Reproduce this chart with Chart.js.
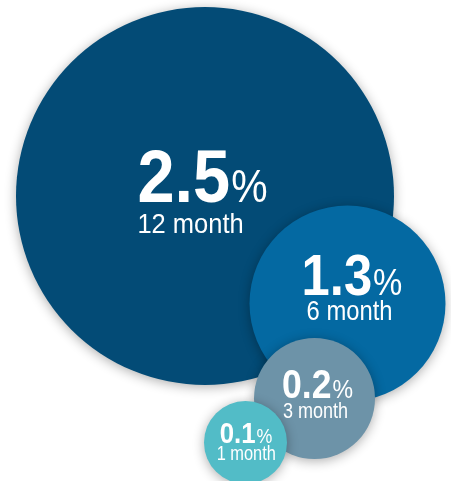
<!DOCTYPE html>
<html>
<head>
<meta charset="utf-8">
<script src="https://cdn.jsdelivr.net/npm/chart.js@4"></script>
<style>
  html, body { margin: 0; padding: 0; background: #fff; }
  #wrap { width: 451px; height: 481px; }
</style>
</head>
<body>
<div id="wrap"><canvas id="c" width="451" height="481"></canvas></div>
<script>
// --- Data ---
const PERIODS = ['12 month', '6 month', '3 month', '1 month'];
const RATES = [2.5, 1.3, 0.2, 0.1];

// --- Layout (page pixels) ---
const BUBBLE_X = [205, 347.5, 314.5, 245.5];
const BUBBLE_Y = [196, 303.5, 398.5, 442.5];
const BUBBLE_R = [189, 98, 60.5, 41.5];
const COLORS = ['#034b76', '#0469a2', '#6d93a8', '#52bcc7'];

// label styling per bubble
const NUM_SIZE = [75, 57, 40, 29];
const PCT_SIZE = [46, 37, 26, 20];
const SUB_SIZE = [28, 28, 22, 20];
const SUB_SQUEEZE = [0.91, 0.85, 0.82, 0.82];
const NUM_DX = [-2.5, 4.5, 3, 0.5];
const SUB_DX = [0, 5, 1, -3];
const BASE_DY = [6, -8.5, -0.5, 0.5];
const LINE_GAP = [31, 25, 20, 17];

const FONT = '"Liberation Sans", Arial, sans-serif';
const SQUEEZE = 0.89; // condensed look for the figures

const shadowPlugin = {
  id: 'shadow',
  beforeDatasetDraw(chart) {
    const ctx = chart.ctx;
    ctx.save();
    ctx.shadowColor = 'rgba(0,0,0,0.32)';
    ctx.shadowBlur = 12;
    ctx.shadowOffsetX = 0;
    ctx.shadowOffsetY = 2;
  },
  afterDatasetDraw(chart) {
    chart.ctx.restore();
  }
};

function squeezedText(ctx, text, x, y, sx) {
  ctx.save();
  ctx.translate(x, y);
  ctx.scale(sx, 1);
  ctx.fillText(text, 0, 0);
  ctx.restore();
}

const labelPlugin = {
  id: 'labels',
  afterDatasetsDraw(chart) {
    const ctx = chart.ctx;
    const pts = chart.getDatasetMeta(0).data;
    ctx.save();
    ctx.fillStyle = '#fff';
    ctx.textBaseline = 'alphabetic';
    ctx.textAlign = 'left';
    pts.forEach((p, i) => {
      const num = RATES[i].toFixed(1);
      ctx.font = 'bold ' + NUM_SIZE[i] + 'px ' + FONT;
      const wNum = ctx.measureText(num).width * SQUEEZE;
      ctx.font = PCT_SIZE[i] + 'px ' + FONT;
      const wPct = ctx.measureText('%').width * SQUEEZE;
      const left = p.x - (wNum + wPct + 1) / 2 + NUM_DX[i];
      const base = p.y + BASE_DY[i];
      ctx.font = 'bold ' + NUM_SIZE[i] + 'px ' + FONT;
      squeezedText(ctx, num, left, base, SQUEEZE);
      ctx.font = PCT_SIZE[i] + 'px ' + FONT;
      squeezedText(ctx, '%', left + wNum + 1, base, SQUEEZE);
      ctx.font = SUB_SIZE[i] + 'px ' + FONT;
      squeezedText(ctx, PERIODS[i], left + SUB_DX[i], base + LINE_GAP[i], SUB_SQUEEZE[i]);
    });
    ctx.restore();
  }
};

new Chart(document.getElementById('c'), {
  type: 'scatter',
  data: {
    labels: PERIODS,
    datasets: [{
      data: RATES.map((v, i) => ({ x: BUBBLE_X[i], y: BUBBLE_Y[i] })),
      pointRadius: BUBBLE_R,
      pointHoverRadius: BUBBLE_R,
      pointBackgroundColor: COLORS,
      pointBorderWidth: 0,
      showLine: false,
      clip: false
    }]
  },
  options: {
    responsive: false,
    animation: false,
    events: [],
    layout: { padding: 0, autoPadding: false },
    plugins: { legend: { display: false }, tooltip: { enabled: false } },
    scales: {
      x: { type: 'linear', min: 0, max: 451, display: false },
      y: { type: 'linear', min: 0, max: 481, reverse: true, display: false }
    }
  },
  plugins: [shadowPlugin, labelPlugin]
});
</script>
</body>
</html>
